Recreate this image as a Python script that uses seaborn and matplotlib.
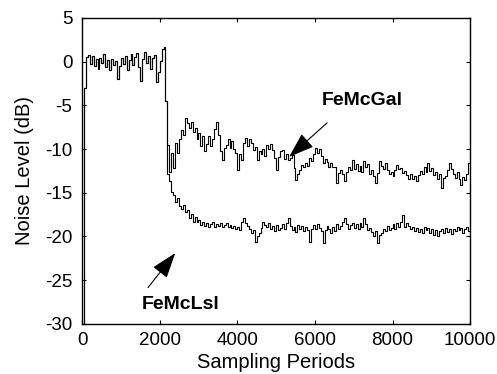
import numpy as np
import pandas as pd
import matplotlib
matplotlib.use("Agg")
import matplotlib.pyplot as plt
import seaborn as sns

# one reading every 50 sampling periods
step = 50
periods = np.arange(0, 10001, step)

# 0 .. 2150 : both filters behave the same before the switch
start_common = [
    -30.0, -3.0, 0.5, 0.8, -0.3, 0.6, -0.5, 0.3, -0.8, 0.4,
    -0.2, 0.9, -0.6, 0.2, -1.0, 0.3, -0.4, 0.1, -2.0, -0.5,
    0.4, -0.3, 0.7, -0.9, 0.2, 0.9, -0.4, 0.5, 1.0, -0.6,
    -2.2, 0.3, 1.1, -0.2, 0.6, -0.8, 0.4, 0.8, -2.3, -1.2,
    0.1, 1.5, 1.7, -4.5,
]

# 2200 .. 10000
gal_tail = [
    -9.5, -12.6, -10.4, -12.2, -9.3, -10.5, -8.8, -7.8, -8.4, -6.4,
    -7.0, -7.6, -6.9, -8.1, -7.6, -8.8, -8.2, -9.7, -8.5, -10.2,
    -9.4, -8.5, -9.6, -8.8, -7.7, -6.9, -8.4, -10.2, -11.3, -9.9,
    -9.5, -8.8, -9.9, -9.1, -10.0, -10.5, -12.4, -10.6, -11.2, -9.3,
    -8.7, -9.6, -8.9, -9.3, -10.1, -9.8, -11.3, -10.2, -10.6, -10.0,
    -10.8, -9.5, -10.0, -9.4, -10.1, -11.0, -12.4, -10.9, -10.2, -10.1,
    -11.1, -10.6, -11.3, -11.0, -10.7, -12.2, -13.5, -12.8, -12.4, -11.8,
    -12.1, -11.6, -11.9, -11.0, -11.4, -10.6, -9.9, -10.4, -10.0, -10.8,
    -11.6, -11.1, -11.5, -12.0, -11.6, -12.1, -12.0, -13.9, -12.7, -12.4,
    -12.9, -13.7, -12.6, -12.0, -12.4, -11.2, -12.3, -11.7, -12.5, -11.9,
    -12.6, -11.4, -12.1, -11.7, -12.8, -12.4, -13.1, -13.9, -12.7, -11.4,
    -11.9, -12.3, -11.6, -12.4, -12.9, -12.6, -13.1, -12.4, -11.8, -12.3,
    -12.2, -12.7, -12.5, -13.0, -13.4, -12.8, -13.4, -13.1, -13.7, -13.0,
    -12.5, -12.9, -12.0, -12.6, -11.6, -12.5, -12.2, -13.0, -12.6, -13.4,
    -12.9, -14.4, -13.3, -13.1, -12.4, -11.6, -12.3, -12.9, -13.3, -12.6,
    -13.4, -14.1, -13.2, -13.5, -12.8, -11.6, -11.5,
]

lsl_tail = [
    -12.8, -13.6, -14.9, -15.3, -16.1, -15.6, -16.5, -16.9, -16.4, -17.2,
    -17.0, -17.9, -17.4, -18.3, -17.8, -18.4, -18.1, -18.7, -18.3, -18.8,
    -18.5, -18.9, -18.6, -18.4, -18.9, -18.6, -18.8, -18.5, -18.9, -18.7,
    -18.5, -18.9, -18.7, -19.0, -18.8, -19.2, -18.9, -19.3, -18.4, -17.9,
    -18.5, -18.8, -19.1, -19.6, -19.3, -20.6, -20.0, -19.6, -19.0, -18.4,
    -18.7, -18.9, -18.5, -19.2, -18.8, -19.4, -18.7, -19.3, -19.0, -18.6,
    -19.1, -18.5, -17.9, -18.8, -19.3, -18.9, -19.5, -18.7, -19.2, -18.8,
    -19.4, -18.9, -19.3, -20.6, -19.1, -18.7, -19.2, -18.6, -19.0, -19.4,
    -20.7, -19.3, -18.8, -19.2, -19.6, -18.9, -19.4, -18.6, -19.1, -18.8,
    -18.4, -17.9, -18.6, -19.1, -18.7, -18.5, -19.0, -18.6, -19.2, -18.5,
    -18.9, -17.9, -18.6, -19.3, -19.0, -19.5, -20.0, -19.4, -20.7, -19.8,
    -19.6, -19.1, -19.4, -18.8, -19.3, -19.0, -18.6, -19.2, -18.5, -18.9,
    -18.4, -17.6, -18.9, -18.5, -18.8, -19.2, -18.9, -19.4, -19.0, -19.5,
    -19.1, -19.6, -18.9, -19.3, -19.0, -19.6, -19.2, -19.8, -19.3, -19.9,
    -19.4, -19.1, -19.6, -19.0, -19.5, -19.2, -19.7, -19.1, -19.4, -18.9,
    -19.3, -19.0, -19.6, -19.2, -18.9, -19.4, -19.6,
]

gal = start_common + gal_tail
lsl = start_common + lsl_tail

df = pd.DataFrame({
    "period": np.concatenate([periods, periods]),
    "noise": gal + lsl,
    "filter": ["FeMcGal"] * len(periods) + ["FeMcLsl"] * len(periods),
})

sns.set_style("ticks")
plt.rcParams["font.family"] = ["Liberation Sans", "DejaVu Sans"]
plt.rcParams["axes.unicode_minus"] = False
plt.rcParams["text.color"] = "black"
plt.rcParams["axes.labelcolor"] = "black"

fig = plt.figure(figsize=(4.97, 3.74), dpi=100)
ax = fig.add_axes([0.165, 0.134, 0.781, 0.818])

sns.lineplot(data=df, x="period", y="noise", units="filter", estimator=None,
             color="black", lw=0.8, drawstyle="steps-post", ax=ax)

ax.set_xlim(0, 10000)
ax.set_ylim(-30, 5)
ax.set_xticks(range(0, 10001, 2000))
ax.set_yticks(range(-30, 6, 5))
ax.tick_params(direction="in", length=3, width=0.8, labelsize=13.5,
               top=True, right=True, colors="black")
ax.tick_params(axis="x", pad=6)
ax.tick_params(axis="y", pad=7)
for s in ax.spines.values():
    s.set_linewidth(1.0)
    s.set_color("black")

ax.set_xlabel("Sampling Periods", fontsize=14.5, labelpad=3)
ax.set_ylabel("Noise Level (dB)", fontsize=14.5, labelpad=8)

arrow = dict(arrowstyle="-|>,head_length=1.6,head_width=0.55", color="black",
             lw=0.8, mutation_scale=10, shrinkA=0, shrinkB=0)
ax.annotate("", xy=(5333, -10.9), xytext=(6315, -7.0), arrowprops=arrow)
ax.annotate("", xy=(2403, -21.9), xytext=(1700, -25.85), arrowprops=arrow)
ax.text(7218, -4.5, "FeMcGal", fontsize=14, fontweight="bold",
        ha="center", va="center")
ax.text(2538, -27.8, "FeMcLsl", fontsize=14, fontweight="bold",
        ha="center", va="center")

fig.savefig("out.png", dpi=100)
